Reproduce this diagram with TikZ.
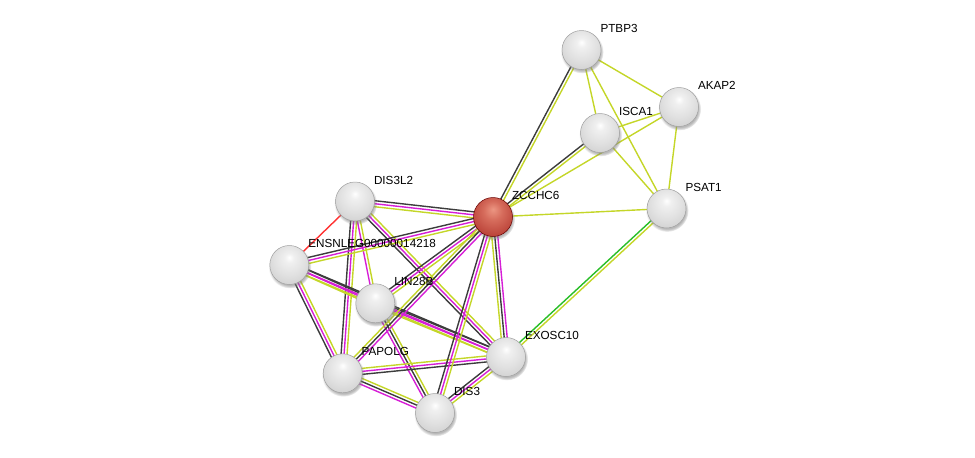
\documentclass[tikz,border=0pt]{standalone}
\usepackage{fontspec}
\setmainfont{Liberation Sans}
\usetikzlibrary{calc,backgrounds,shadows}
\definecolor{tmY}{RGB}{196,214,40}
\definecolor{exM}{RGB}{214,30,214}
\definecolor{coK}{RGB}{60,60,60}
\definecolor{gfR}{RGB}{255,50,50}
\definecolor{nbG}{RGB}{40,190,40}
\pgfdeclareradialshading{sball}{\pgfpoint{0bp}{10bp}}{color(0bp)=(white); color(6bp)=(gray!12); color(20bp)=(gray!24); color(32bp)=(gray!36); color(42bp)=(gray!52); color(50bp)=(gray!75); color(60bp)=(gray!60)}
\pgfdeclareradialshading{rball}{\pgfpoint{0bp}{10bp}}{color(0bp)=(rgb,255:red,236;green,150;blue,130); color(12bp)=(rgb,255:red,214;green,108;blue,92); color(30bp)=(rgb,255:red,186;green,66;blue,56); color(42bp)=(rgb,255:red,155;green,35;blue,30); color(50bp)=(rgb,255:red,115;green,18;blue,18); color(60bp)=(rgb,255:red,140;green,30;blue,28)}
\newcommand\sedge[3]{\foreach \cc/\oo in {#3}{\draw[elink,\cc] ($(#1)!\oo pt!90:(#2)$) -- ($(#2)!\oo pt!-90:(#1)$);}}
\begin{document}
\begin{tikzpicture}[x=1pt,y=-1pt,
  prot/.style={circle,minimum size=39pt,inner sep=0pt,draw=gray!75,line width=0.5pt,shade,shading=sball,
    circular drop shadow={shadow xshift=0.6pt,shadow yshift=-1.8pt,opacity=0.55}},
  protred/.style={prot,shading=rball,draw=red!40!black},
  lab/.style={anchor=base west,inner sep=0pt,font=\fontsize{11.7}{13}\selectfont,text=black},
  elink/.style={line width=1.4pt}]
\useasboundingbox (0,0) rectangle (975,458);
% nodes
\node[prot] (ptbp3) at (581.5,50) {};
\node[prot] (akap2) at (679,107) {};
\node[prot] (isca1) at (600,133) {};
\node[prot] (psat1) at (666.5,208.5) {};
\node[protred] (zcchc6) at (493,217) {};
\node[prot] (dis3l2) at (355,201.5) {};
\node[prot] (ens) at (289.3,265) {};
\node[prot] (lin28b) at (375.3,303.3) {};
\node[prot] (exosc10) at (506,357) {};
\node[prot] (papolg) at (342.7,373.3) {};
\node[prot] (dis3) at (435,413) {};
% labels
\node[lab] (l-ptbp3) at ($(ptbp3)+(18.8,-17.5)$) {PTBP3};
\node[lab] (l-akap2) at ($(akap2)+(18.8,-17.5)$) {AKAP2};
\node[lab] (l-isca1) at ($(isca1)+(18.8,-17.5)$) {ISCA1};
\node[lab] (l-psat1) at ($(psat1)+(18.8,-17.5)$) {PSAT1};
\node[lab] (l-zcchc6) at ($(zcchc6)+(18.8,-17.5)$) {ZCCHC6};
\node[lab] (l-dis3l2) at ($(dis3l2)+(18.8,-17.5)$) {DIS3L2};
\node[lab] (l-ens) at ($(ens)+(18.8,-17.5)$) {ENSNLEG00000014218};
\node[lab] (l-lin28b) at ($(lin28b)+(18.8,-17.5)$) {LIN28B};
\node[lab] (l-exosc10) at ($(exosc10)+(18.8,-17.5)$) {EXOSC10};
\node[lab] (l-papolg) at ($(papolg)+(18.8,-17.5)$) {PAPOLG};
\node[lab] (l-dis3) at ($(dis3)+(18.8,-17.5)$) {DIS3};
% edges
\begin{scope}[on background layer]
\sedge{ptbp3}{zcchc6}{coK/-1.5,tmY/1.5}
\sedge{ptbp3}{akap2}{tmY/0}
\sedge{ptbp3}{isca1}{tmY/0}
\sedge{ptbp3}{psat1}{tmY/0}
\sedge{akap2}{isca1}{tmY/0}
\sedge{akap2}{zcchc6}{tmY/0}
\sedge{akap2}{psat1}{tmY/0}
\sedge{isca1}{zcchc6}{coK/-1.5,tmY/1.5}
\sedge{isca1}{psat1}{tmY/0}
\sedge{zcchc6}{psat1}{tmY/0}
\sedge{psat1}{exosc10}{nbG/-1.5,tmY/1.5}
\sedge{dis3l2}{zcchc6}{tmY/-3,exM/0,coK/3}
\sedge{dis3l2}{ens}{gfR/0}
\sedge{dis3l2}{lin28b}{exM/-1.5,tmY/1.5}
\sedge{dis3l2}{papolg}{coK/-3,exM/0,tmY/3}
\sedge{dis3l2}{exosc10}{coK/-3,exM/0,tmY/3}
\sedge{ens}{zcchc6}{tmY/-3,exM/0,coK/3}
\sedge{ens}{lin28b}{tmY/-3,exM/0,coK/3}
\sedge{ens}{exosc10}{tmY/-3,exM/0,coK/3}
\sedge{ens}{papolg}{coK/-3,exM/0,tmY/3}
\sedge{lin28b}{zcchc6}{tmY/-3,exM/0,coK/3}
\sedge{lin28b}{exosc10}{tmY/-3,exM/0,coK/3}
\sedge{lin28b}{dis3}{exM/-3,coK/0,tmY/3}
\sedge{papolg}{zcchc6}{exM/-3,coK/0,tmY/3}
\sedge{papolg}{exosc10}{coK/-3,exM/0,tmY/3}
\sedge{papolg}{dis3}{exM/-3,coK/0,tmY/3}
\sedge{dis3}{zcchc6}{tmY/-3,exM/0,coK/3}
\sedge{dis3}{exosc10}{tmY/-3,exM/0,coK/3}
\sedge{exosc10}{zcchc6}{exM/-3,coK/0,tmY/3}
\end{scope}
\end{tikzpicture}
\end{document}
